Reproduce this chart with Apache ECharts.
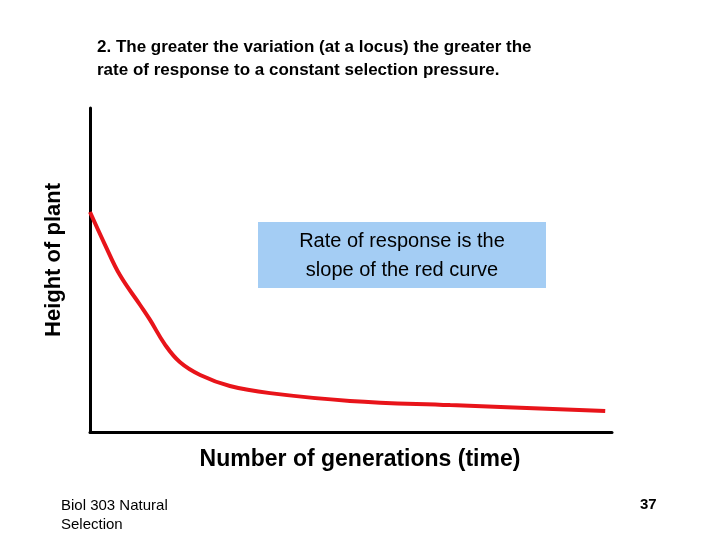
<!DOCTYPE html>
<html><head><meta charset="utf-8">
<script src="https://cdn.jsdelivr.net/npm/echarts@6/dist/echarts.min.js"></script>
<style>body{margin:0}#c{width:720px;height:540px}</style>
</head><body><div id="c"></div>
<script>
// generations (0-100 scale) and plant height (0-100 scale)
var generations = [0, 2.9, 5.7, 9.6, 11.5, 14.4, 17.2, 21.1, 26.8, 34.5, 49.8, 69, 98.7];
var heights = [67.9, 57.7, 48.5, 39.2, 34.6, 26.9, 21.6, 17.6, 14.2, 12, 9.6, 8.3, 6.5];

var chart = echarts.init(document.getElementById('c'));
var font = 'Liberation Sans, Arial, sans-serif';
chart.setOption({
	backgroundColor: '#fff',
	animation: false,
	grid: { left: 90, right: 108, top: 108, bottom: 108 },
	xAxis: {
		type: 'value', min: 0, max: 100,
		axisLine: { show: true, lineStyle: { color: '#000', width: 3 } },
		axisTick: { show: false }, axisLabel: { show: false }, splitLine: { show: false }
	},
	yAxis: {
		type: 'value', min: 0, max: 100,
		axisLine: { show: true, lineStyle: { color: '#000', width: 3 } },
		axisTick: { show: false }, axisLabel: { show: false }, splitLine: { show: false }
	},
	series: [{
		type: 'line', smooth: 0.4, symbol: 'none',
		lineStyle: { color: '#e8141a', width: 4 },
		data: generations.map(function (g, i) { return [g, heights[i]]; })
	}],
	graphic: [
		{ type: 'text', left: 97, top: 36, style: { text: '2. The greater the variation (at a locus) the greater the\nrate of response to a constant selection pressure.', font: 'bold 17px ' + font, fill: '#000', lineHeight: 23, letterSpacing: 0.9 } },
		{ type: 'text', x: 54, y: 260, rotation: Math.PI / 2, style: { text: 'Height of plant', font: 'bold 22px ' + font, fill: '#000', align: 'center', verticalAlign: 'middle', letterSpacing: 2 } },
		{ type: 'rect', shape: { x: 258, y: 222, width: 288, height: 66 }, style: { fill: '#a4cdf4' } },
		{ type: 'text', x: 402, y: 256, style: { text: 'Rate of response is the\nslope of the red curve', font: '20px ' + font, fill: '#000', align: 'center', verticalAlign: 'middle', lineHeight: 29, letterSpacing: 1.3 } },
		{ type: 'text', x: 360, y: 460, style: { text: 'Number of generations (time)', font: 'bold 23px ' + font, fill: '#000', align: 'center', verticalAlign: 'middle', letterSpacing: 1.2 } },
		{ type: 'text', left: 61, top: 496, style: { text: 'Biol 303 Natural\nSelection', font: '15px ' + font, fill: '#000', lineHeight: 19, letterSpacing: 0.4 } },
		{ type: 'text', left: 640, top: 497, style: { text: '37', font: 'bold 15px ' + font, fill: '#000' } }
	]
});
</script></body></html>
